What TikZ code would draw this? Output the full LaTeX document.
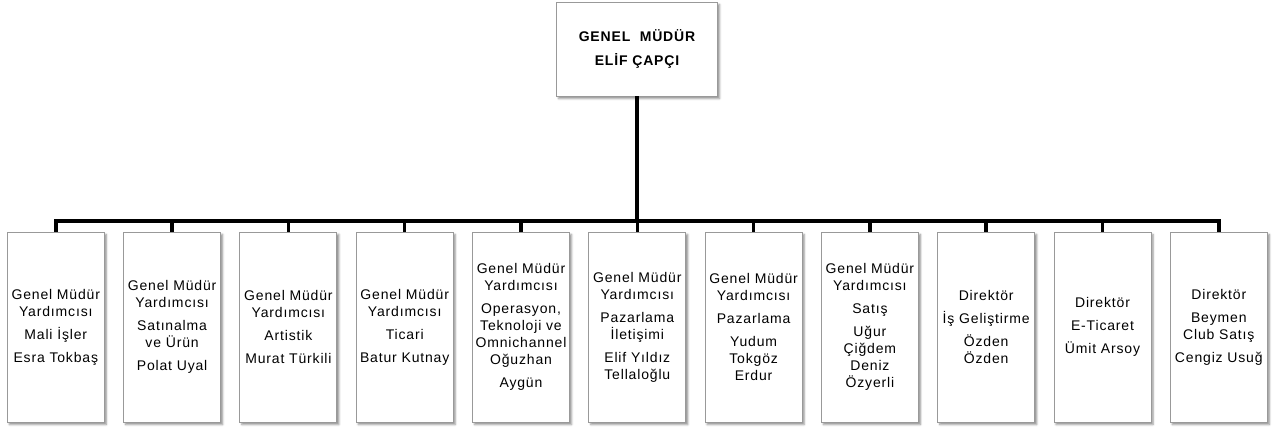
\documentclass[tikz,border=0pt]{standalone}
\usepackage{fontspec}
\setmainfont{Liberation Sans}
\usetikzlibrary{shadows.blur}
\tikzset{
  box/.style={draw=black!40, line width=0.9pt, fill=white, align=center, inner sep=0pt,
    blur shadow={shadow xshift=2pt, shadow yshift=-2.5pt, shadow blur radius=2pt, shadow opacity=45},
    font={\fontsize{14}{17}\selectfont\addfontfeature{LetterSpace=6}}},
  unit/.style={box, minimum width=97pt, minimum height=190pt},
  head/.style={box, minimum width=161pt, minimum height=94pt,
    font={\fontsize{14}{24}\selectfont\bfseries\addfontfeature{LetterSpace=6}}},
  conn/.style={line width=3.5pt, black, line join=miter}
}
\newcommand{\pg}{\\[6pt]}
\begin{document}
\begin{tikzpicture}[x=1pt,y=-1pt]
\useasboundingbox (0,0) rectangle (1272,432);
\node[head] (top) at (637,49) {GENEL\ \ MÜDÜR\\ELİF ÇAPÇI};
\node[unit] (b1) at (55.8,327) {Genel Müdür\\Yardımcısı\pg Mali İşler\pg Esra Tokbaş};
\node[unit] (b2) at (172.1,327) {Genel Müdür\\Yardımcısı\pg Satınalma\\ve Ürün\pg Polat Uyal};
\node[unit] (b3) at (288.4,327) {Genel Müdür\\Yardımcısı\pg Artistik\pg Murat Türkili};
\node[unit] (b4) at (404.7,327) {Genel Müdür\\Yardımcısı\pg Ticari\pg Batur Kutnay};
\node[unit] (b5) at (521.0,327) {Genel Müdür\\Yardımcısı\pg Operasyon,\\Teknoloji ve\\Omnichannel\\Oğuzhan\pg Aygün};
\node[unit] (b6) at (637.3,327) {Genel Müdür\\Yardımcısı\pg Pazarlama\\İletişimi\pg Elif Yıldız\\Tellaloğlu};
\node[unit] (b7) at (753.6,327) {Genel Müdür\\Yardımcısı\pg Pazarlama\pg Yudum\\Tokgöz\\Erdur};
\node[unit] (b8) at (869.9,327) {Genel Müdür\\Yardımcısı\pg Satış\pg Uğur\\Çiğdem\\Deniz\\Özyerli};
\node[unit] (b9) at (986.2,327) {Direktör\pg İş Geliştirme\pg Özden\\Özden};
\node[unit] (b10) at (1102.5,327) {Direktör\pg E-Ticaret\pg Ümit Arsoy};
\node[unit] (b11) at (1218.8,327) {Direktör\pg Beymen\\Club Satış\pg Cengiz Usuğ};
\coordinate (bus) at (637,221);
\draw[conn] (top.south) -- (top.south |- bus);
\draw[conn] (b1.north) -- (b1.north |- bus) -- (b11.north |- bus) -- (b11.north);
\foreach \i in {2,...,10} \draw[conn] (b\i.north) -- (b\i.north |- bus);
\end{tikzpicture}
\end{document}
